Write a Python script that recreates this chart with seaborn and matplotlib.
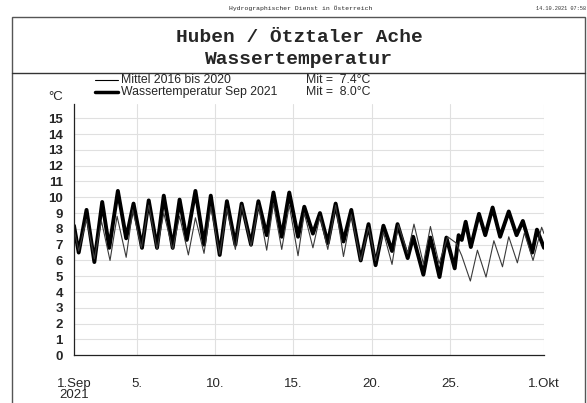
import matplotlib
matplotlib.use("Agg")
import matplotlib.pyplot as plt
from matplotlib.lines import Line2D
from matplotlib.patches import Rectangle
import seaborn as sns
import pandas as pd
import numpy as np

# ---------------- data (days since 1 Sep 2021 00:00, °C) ----------------
thick_t = [0, 0.3, 0.8, 1.3, 1.8, 2.25, 2.8, 3.33, 3.8, 4.34, 4.77, 5.3, 5.73, 6.3,
           6.74, 7.2, 7.75, 8.3, 8.73, 9.3, 9.76, 10.3, 10.7, 11.3, 11.77, 12.3,
           12.73, 13.26, 13.74, 14.3, 14.7, 15.25, 15.7, 16.2, 16.7, 17.2, 17.7,
           18.3, 18.8, 19.25, 19.75, 20.3, 20.65, 21.3, 21.65, 22.3, 22.75, 23.33,
           23.77, 24.3, 24.55, 24.75, 25.0, 25.33, 25.85, 26.25, 26.72, 27.2,
           27.75, 28.25, 28.65, 29.25, 29.55, 30.0]
thick_v = [8.2, 6.5, 9.2, 5.9, 9.7, 6.8, 10.4, 7.4, 9.6, 6.8, 9.8, 6.8, 10.1, 6.8,
           9.85, 7.3, 10.4, 7.0, 10.1, 6.35, 9.75, 7.0, 9.6, 7.0, 9.75, 7.6,
           10.3, 7.5, 10.3, 7.5, 9.4, 7.7, 9.0, 7.1, 9.6, 7.2, 9.2,
           6.0, 8.3, 5.7, 8.2, 6.6, 8.3, 6.15, 7.5, 5.1, 7.45, 4.95,
           7.45, 5.5, 7.6, 7.3, 8.45, 6.85, 8.95, 7.6, 9.35, 7.5,
           9.1, 7.6, 8.5, 6.5, 7.95, 6.8]

thin_t = [0, 0.3, 0.8, 1.3, 1.75, 2.3, 2.75, 3.33, 3.75, 4.3, 4.77, 5.3, 5.73, 6.3,
          6.74, 7.3, 7.75, 8.3, 8.73, 9.3, 9.76, 10.3, 10.7, 11.3, 11.77, 12.3,
          12.73, 13.26, 13.74, 14.3, 14.7, 15.25, 15.7, 16.2, 16.7, 17.2, 17.7,
          18.3, 18.8, 19.25, 19.75, 20.3, 20.7, 21.3, 21.7, 22.3, 22.75, 23.3,
          23.85, 24.4, 24.75, 25.3, 25.75, 26.3, 26.8, 27.35, 27.75, 28.3, 28.75,
          29.3, 29.85, 30.0]
thin_v = [8.0, 6.6, 8.6, 6.1, 8.5, 6.0, 8.8, 6.2, 9.2, 6.8, 9.5, 6.7, 9.0, 6.7,
          8.8, 6.35, 8.7, 6.45, 9.4, 6.4, 9.3, 6.7, 9.5, 6.9, 9.5, 6.65,
          9.6, 6.7, 9.5, 6.3, 9.0, 6.8, 8.8, 6.7, 9.5, 6.25, 8.9,
          6.0, 8.1, 6.0, 7.8, 5.75, 8.25, 6.45, 8.3, 5.8, 8.15, 5.8,
          7.5, 7.1, 6.3, 4.7, 6.65, 4.95, 7.25, 5.6, 7.5, 5.85, 7.75,
          6.0, 8.1, 7.7]

series_names = ["Mittel 2016 bis 2020", "Wassertemperatur Sep 2021"]
series_means = ["Mit =  7.4°C", "Mit =  8.0°C"]

x_tick_pos = [0, 4, 9, 14, 19, 24, 30]
x_tick_labels = ["1.Sep\n2021", "5.", "10.", "15.", "20.", "25.", "1.Okt"]
y_ticks = list(range(0, 16))

title_lines = ["Huben / Ötztaler Ache", "Wassertemperatur"]
header_text = "Hydrographischer Dienst in Österreich"
date_text = "14.10.2021 07:58"

# ---------------- figure ----------------
sns.set_style("white")
plt.rcParams["font.family"] = ["Liberation Sans", "DejaVu Sans"]

W, H = 587, 403
fig = plt.figure(figsize=(W / 100, H / 100), dpi=100)

def fx(px):
    return px / W

def fy(py):
    return 1 - py / H

ax_left, ax_right, ax_top, ax_bot = 74, 544, 104, 355.3
ax = fig.add_axes([fx(ax_left), fy(ax_bot), fx(ax_right) - fx(ax_left), fy(ax_top) - fy(ax_bot)])

df_thin = pd.DataFrame({"t": thin_t, "v": thin_v})
df_thick = pd.DataFrame({"t": thick_t, "v": thick_v})

sns.lineplot(data=df_thick, x="t", y="v", ax=ax, color="black", lw=2.8,
             estimator=None, sort=False, zorder=3, solid_joinstyle="round",
             solid_capstyle="round")
sns.lineplot(data=df_thin, x="t", y="v", ax=ax, color="#3a3a3a", lw=0.8,
             estimator=None, sort=False, zorder=4)

ax.set_xlim(0, 30)
ax.set_ylim(0, 15.9)
ax.set_xlabel("")
ax.set_ylabel("")

# grid
for y in y_ticks[1:]:
    ax.axhline(y, color="#e0e0e0", lw=0.8, zorder=1)
for x in x_tick_pos[1:]:
    ax.axvline(x, color="#e0e0e0", lw=0.8, zorder=1)

for s in ["top", "right"]:
    ax.spines[s].set_visible(False)
for s in ["left", "bottom"]:
    ax.spines[s].set_color("#222222")
    ax.spines[s].set_linewidth(0.9)
    ax.spines[s].set_zorder(5)

ax.set_yticks(y_ticks)
ax.set_yticklabels([str(v) for v in y_ticks], fontweight="bold", fontsize=9.5)
ax.tick_params(axis="y", direction="out", length=6, width=0.8, color="#222222", pad=2)

ax.set_xticks(x_tick_pos)
ax.set_xticklabels(x_tick_labels, fontsize=9.5, linespacing=0.9)
ax.set_xticks([d for d in range(1, 30) if d not in x_tick_pos], minor=True)
ax.tick_params(axis="x", which="major", direction="out", length=12, width=0.8,
               color="#222222", pad=4)
ax.tick_params(axis="x", which="minor", direction="out", length=4, width=0.8,
               color="#222222")

# "°C" unit
fig.text(fx(56), fy(97), "°C", fontsize=9.5, ha="center", va="center")

# legend (manual, like the original)
leg_rows = [80, 92]
leg_lw = [0.8, 2.5]
for row, lw, name, mean in zip(leg_rows, leg_lw, series_names, series_means):
    fig.add_artist(Line2D([fx(95), fx(118)], [fy(row), fy(row)], color="black", lw=lw))
    fig.text(fx(121), fy(row), name, fontsize=8.8, ha="left", va="center")
    fig.text(fx(306), fy(row), mean, fontsize=8.8, ha="left", va="center")

# frame and title box
fig.add_artist(Rectangle((fx(12), fy(420)), fx(585) - fx(12), fy(17) - fy(420),
                         fill=False, edgecolor="#555555", lw=1.0))
fig.add_artist(Line2D([fx(12), fx(585)], [fy(73), fy(73)], color="#333333", lw=1.0))

fig.text(fx(299), fy(37), title_lines[0], fontsize=14, fontweight="bold",
         family="Liberation Mono", ha="center", va="center")
fig.text(fx(299), fy(59.5), title_lines[1], fontsize=14, fontweight="bold",
         family="Liberation Mono", ha="center", va="center")

fig.text(fx(301), fy(8), header_text, fontsize=4.6, family="Liberation Mono",
         ha="center", va="center")
fig.text(fx(586), fy(8), date_text, fontsize=3.8, family="Liberation Mono",
         ha="right", va="center", color="#333333")

fig.savefig("out.png", dpi=100)
